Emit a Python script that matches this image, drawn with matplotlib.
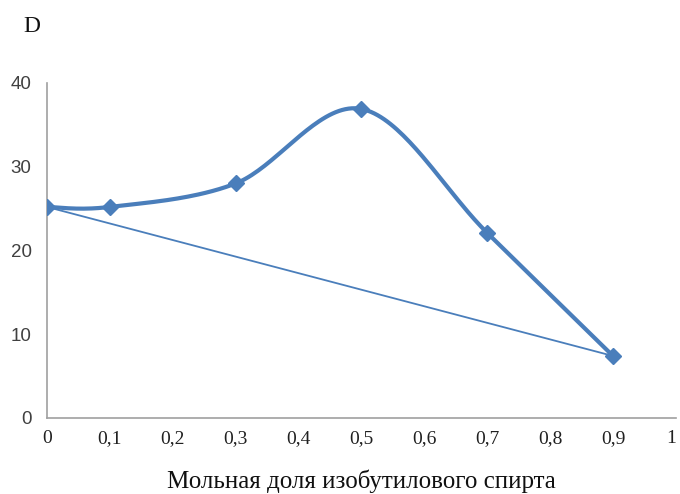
import numpy as np
import matplotlib
matplotlib.use('Agg')
import matplotlib.pyplot as plt

# data
x = [0, 0.1, 0.3, 0.5, 0.7, 0.9]
d = [25.2, 25.2, 28.0, 36.9, 22.1, 7.4]
xticks = [0, 0.1, 0.2, 0.3, 0.4, 0.5, 0.6, 0.7, 0.8, 0.9, 1]
yticks = [0, 10, 20, 30, 40]

blue = '#4A7EBB'


def smooth(px, py, n=40):
    # catmull-rom style smoothing like the office charts
    px = np.asarray(px, float)
    py = np.asarray(py, float)
    P = np.column_stack([px, py])
    P = np.vstack([P[0], P, P[-1]])
    out = []
    for i in range(1, len(P) - 2):
        p0, p1, p2, p3 = P[i - 1], P[i], P[i + 1], P[i + 2]
        c1 = p1 + (p2 - p0) / 6
        c2 = p2 - (p3 - p1) / 6
        t = np.linspace(0, 1, n)[:, None]
        seg = (1 - t) ** 3 * p1 + 3 * (1 - t) ** 2 * t * c1 + 3 * (1 - t) * t ** 2 * c2 + t ** 3 * p2
        out.append(seg if i == 1 else seg[1:])
    out = np.vstack(out)
    return out[:, 0], out[:, 1]


fig = plt.figure(figsize=(6.8, 4.94), dpi=100)
ax = fig.add_axes([0.069, 0.154, 0.925, 0.678])

sx, sy = smooth(x, d)
ax.plot(sx, sy, color=blue, lw=3, solid_capstyle='round', zorder=3)
ax.plot(x, d, ls='none', marker='D', ms=8, color=blue, zorder=4)
ax.plot([x[0], x[-1]], [d[0], d[-1]], color=blue, lw=1.3, zorder=2)

ax.set_xlim(0, 1)
ax.set_ylim(0, 40)
ax.set_xticks(xticks)
ax.set_xticklabels([('%g' % v).replace('.', ',') for v in xticks],
                   family='Liberation Serif', fontsize=14, color='#202020')
# last label sits on the right edge, keep it inside the figure
ax.get_xticklabels()[-1].set_horizontalalignment('right')
ax.set_yticks(yticks)
ax.set_yticklabels([str(v) for v in yticks], family='Liberation Sans',
                   fontsize=13.5, color='#404040')
ax.tick_params(length=0)
ax.tick_params(axis='x', pad=9)
ax.tick_params(axis='y', pad=11)

for s in ['top', 'right']:
    ax.spines[s].set_visible(False)
for s in ['left', 'bottom']:
    ax.spines[s].set_color('#A0A0A0')
    ax.spines[s].set_linewidth(1.2)

ax.set_xlabel('Мольная доля изобутилового спирта', family='Liberation Serif',
              fontsize=18, labelpad=16, color='#101010')
fig.text(0.035, 0.935, 'D', family='Liberation Serif', fontsize=17, color='#101010')

fig.savefig('out.png', dpi=100)
